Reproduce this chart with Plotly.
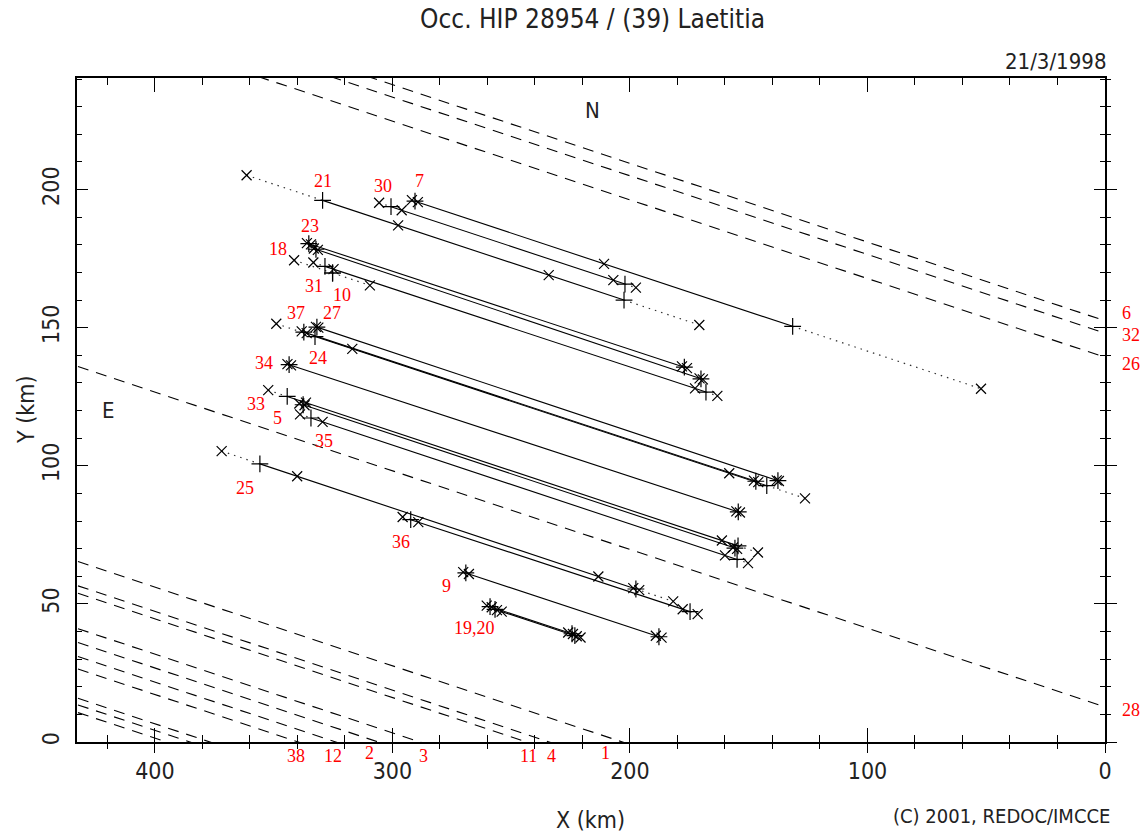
import plotly.graph_objects as go

# ---------------- data (km) ----------------
SLOPE = 0.285  # common slope of all chords / dashed tracks (dY/dX)

# positive chords: disappearance (D) and reappearance (R) points, and x-marks (error ends)
chord_names = ["7", "30", "21", "23", "23b", "31", "18", "27", "37", "24", "34",
               "33", "5", "35", "25", "36", "9", "19", "20"]
d_x = [290.5, 300.6, 329.4, 335.2, 332.2, 328.4, 325.2, 331.8, 337.3, 332.6, 343.5,
       344.3, 337.6, 334.3, 355.8, 292.3, 269.1, 258.9, 256.8]
d_y = [195.8, 193.8, 196.1, 180.4, 178.4, 172.2, 169.8, 150.2, 148.4, 146.8, 136.6,
       125.1, 122.1, 117.3, 100.7, 80.5, 61.2, 49.0, 48.0]
r_x = [131.5, 202.1, 202.5, 177.1, 170.1, 168.0, 325.2, 137.7, 147.0, 142.4, 154.4,
       154.5, 155.8, 154.9, 197.5, 174.7, 187.8, 224.4, 223.2]
r_y = [150.5, 165.8, 160.0, 135.7, 131.5, 126.7, 169.8, 94.6, 94.4, 92.8, 83.3,
       71.0, 70.2, 66.1, 55.4, 47.2, 38.1, 39.2, 38.5]
cross_x = [
    [291.8, 289.3, 210.9, 52.2],
    [305.6, 296.1, 207.0, 197.5],
    [361.4, 297.6, 234.2, 170.8],
    [336.0, 334.3, 178.1, 176.0],
    [333.1, 331.4, 170.7, 169.3],
    [333.3, 324.8, 172.6, 163.2],
    [341.4, 309.5],
    [332.2, 331.2, 138.2, 137.3],
    [338.2, 336.1, 147.8, 146.0],
    [348.9, 316.9, 158.2, 126.3],
    [344.2, 342.7, 155.2, 153.7],
    [352.3, 336.4, 161.3, 146.1],
    [339.2, 337.0, 156.6, 154.9],
    [338.9, 329.4, 160.0, 150.3],
    [371.9, 340.1, 213.3, 198.6, 196.1, 181.8],
    [295.7, 289.1, 177.8, 171.5],
    [270.2, 267.8, 189.1, 186.7],
    [260.3, 258.2, 226.0, 224.0],
    [256.0, 254.0, 222.4, 220.8],
]

# negative observations: dashed tracks, Y at X = 0
neg_names = ["6", "32", "26", "28", "1", "4", "11", "3", "2", "12", "38", "", "", ""]
neg_y0 = [152.5, 148.0, 139.3, 12.7, -57.9, -66.7, -69.4, -82.2, -87.2, -92.3, -96.8,
          -107.4, -109.8, -112.6]

X_RANGE = [432.8, 0]
Y_RANGE = [0, 240.4]

# ---------------- geometry ----------------
FIG_W, FIG_H = 1147, 836
L, R_, T, B = 77, 42, 78, 94
PW, PH = FIG_W - L - R_, FIG_H - T - B


def paper(px, py):
    return (px - L) / PW, (FIG_H - B - py) / PH


solid_x, solid_y, dot_x, dot_y = [], [], [], []
xm_x, xm_y, pl_x, pl_y = [], [], [], []
for i in range(len(chord_names)):
    if r_x[i] != d_x[i]:
        k = (r_y[i] - d_y[i]) / (r_x[i] - d_x[i])
    else:
        k = SLOPE

    def yat(x):
        return d_y[i] + (x - d_x[i]) * k

    if r_x[i] != d_x[i]:
        solid_x += [d_x[i], r_x[i], None]
        solid_y += [d_y[i], r_y[i], None]
    cx = cross_x[i]
    if max(cx) > d_x[i]:
        dot_x += [max(cx), d_x[i], None]
        dot_y += [yat(max(cx)), d_y[i], None]
    if min(cx) < r_x[i]:
        dot_x += [r_x[i], min(cx), None]
        dot_y += [r_y[i], yat(min(cx)), None]
    for x in cx:
        xm_x.append(x)
        xm_y.append(yat(x))
    pl_x += [d_x[i], r_x[i]]
    pl_y += [d_y[i], r_y[i]]

dash_x, dash_y = [], []
for y0 in neg_y0:
    dash_x += [-20, 460, None]
    dash_y += [y0 - 20 * SLOPE, y0 + 460 * SLOPE, None]

fig = go.Figure()
fig.add_trace(go.Scatter(x=dash_x, y=dash_y, mode="lines",
                         line=dict(color="black", width=1.1, dash="11px,8px"),
                         hoverinfo="skip", showlegend=False))
fig.add_trace(go.Scatter(x=dot_x, y=dot_y, mode="lines",
                         line=dict(color="#333", width=1.2, dash="1.5px,5px"),
                         hoverinfo="skip", showlegend=False))
fig.add_trace(go.Scatter(x=solid_x, y=solid_y, mode="lines",
                         line=dict(color="black", width=1.1),
                         hoverinfo="skip", showlegend=False))
fig.add_trace(go.Scatter(x=xm_x, y=xm_y, mode="markers",
                         marker=dict(symbol="x-thin", size=10, line=dict(color="black", width=1.2)),
                         hoverinfo="skip", showlegend=False))
fig.add_trace(go.Scatter(x=pl_x, y=pl_y, mode="markers",
                         marker=dict(symbol="cross-thin", size=12, line=dict(color="black", width=1.2)),
                         hoverinfo="skip", showlegend=False))
# overlay axes for crossing ticks on bottom and right
fig.add_trace(go.Scatter(x=[None], y=[None], xaxis="x2", yaxis="y2", showlegend=False))

STROKE = "Liberation Sans Narrow, DejaVu Sans Condensed, Arial Narrow, sans-serif"
SERIF = "Liberation Serif, Times New Roman, serif"

fig.update_layout(
    width=FIG_W, height=FIG_H,
    margin=dict(l=L, r=R_, t=T, b=B),
    paper_bgcolor="white", plot_bgcolor="white",
    xaxis=dict(range=X_RANGE, showgrid=False, zeroline=False, showline=True,
               linecolor="black", linewidth=1.5, mirror="allticks",
               ticks="inside", ticklen=14, tickwidth=1, tickcolor="black",
               tick0=0, dtick=100, ticklabelstandoff=8,
               minor=dict(ticks="inside", ticklen=7, dtick=20, tickcolor="black", tickwidth=1),
               tickfont=dict(family=STROKE, size=23, color="#222")),
    yaxis=dict(range=Y_RANGE, showgrid=False, zeroline=False, showline=True,
               linecolor="black", linewidth=1.5, mirror="allticks",
               ticks="inside", ticklen=11, tickwidth=1, tickcolor="black",
               tick0=0, dtick=50, tickangle=-90, ticklabelstandoff=7,
               minor=dict(ticks="inside", ticklen=5, dtick=10, tickcolor="black", tickwidth=1),
               tickfont=dict(family=STROKE, size=23, color="#222")),
    xaxis2=dict(range=X_RANGE, overlaying="x", anchor="y2", side="bottom",
                showgrid=False, zeroline=False, showline=False, showticklabels=False,
                ticks="outside", ticklen=10, tickwidth=1, tickcolor="black", tick0=0, dtick=100,
                minor=dict(ticks="outside", ticklen=6, dtick=20, tickcolor="black", tickwidth=1)),
    yaxis2=dict(range=Y_RANGE, overlaying="y", anchor="x2", side="right",
                showgrid=False, zeroline=False, showline=False, showticklabels=False,
                ticks="outside", ticklen=11, tickwidth=1, tickcolor="black", tick0=0, dtick=50,
                minor=dict(ticks="outside", ticklen=5, dtick=10, tickcolor="black", tickwidth=1)),
)

ann = []


def text(px, py, s, size, family, color="#222", xanchor="center", angle=0):
    xp, yp = paper(px, py)
    ann.append(dict(x=xp, y=yp, xref="paper", yref="paper", text=s, showarrow=False,
                    xanchor=xanchor, yanchor="middle", textangle=angle,
                    font=dict(family=family, size=size, color=color)))


text(592, 19, "Occ. HIP 28954 / (39) Laetitia", 26, STROKE)
text(1108, 62, "21/3/1998", 22, STROKE, xanchor="right")
text(592, 110, "N", 22, STROKE)
text(108, 410, "E", 22, STROKE)
text(590, 820, "X (km)", 23, STROKE)
text(26, 410, "Y (km)", 23, STROKE, angle=-90)
text(1112, 816, "(C) 2001, REDOC/IMCCE", 20, STROKE, xanchor="right")

red_labels = ["21", "30", "7", "23", "18", "31", "10", "37", "27", "24", "34", "33", "5",
              "35", "25", "36", "9", "19,20", "6", "32", "26", "28",
              "38", "12", "2", "3", "11", "4", "1"]
red_pos = [(323, 181), (383, 186), (419, 181), (310, 226), (278, 249), (314, 286), (342, 295),
           (296, 313), (332, 313), (318, 358), (264, 363), (256, 404), (277, 418), (324, 441),
           (245, 488), (401, 542), (446, 586), (474, 628), (1126, 313), (1131, 335),
           (1131, 364), (1131, 710), (296, 756), (333, 756), (369, 753), (423, 756),
           (528, 756), (551, 756), (605, 753)]
for s, (px, py) in zip(red_labels, red_pos):
    text(px, py, s, 18, SERIF, color="red")

fig.update_layout(annotations=ann)
fig.write_html("out.html")
